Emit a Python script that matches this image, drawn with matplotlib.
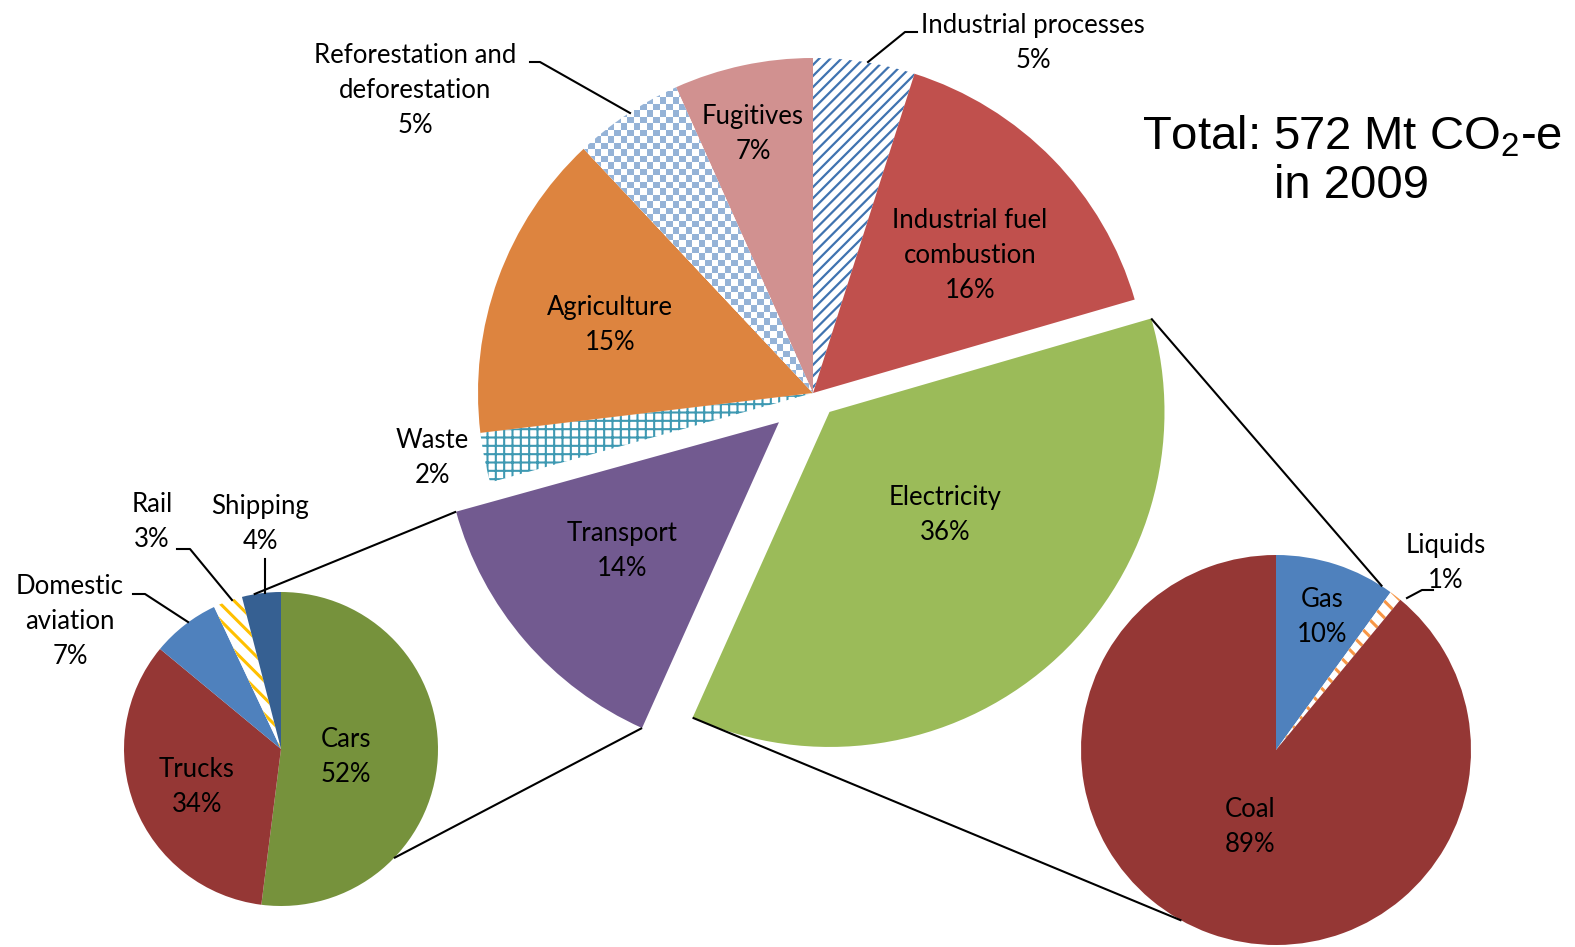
import numpy as np
import matplotlib
matplotlib.use('Agg')
import matplotlib.pyplot as plt
from matplotlib.colors import ListedColormap

W, H = 1575, 947


def Y(y):
    return H - y


# ---------------- data ----------------
main_labels = ['Industrial processes', 'Industrial fuel\ncombustion', 'Electricity',
               'Transport', 'Waste', 'Agriculture',
               'Reforestation and\ndeforestation', 'Fugitives']
main_values = [4.9, 15.6, 36.2, 14.0, 2.4, 14.9, 5.3, 6.7]

transport_labels = ['Cars', 'Trucks', 'Domestic\naviation', 'Rail', 'Shipping']
transport_values = [52, 34, 7, 3, 4]

electricity_labels = ['Gas', 'Liquids', 'Coal']
electricity_values = [10, 1, 89]

title_text = 'Total: 572 Mt CO$_2$-e\nin 2009'

# ---------------- styles ----------------
main_colors = ['white', '#C0504D', '#9BBB59', '#725A90', 'white', '#DD843F', 'white', '#D19190']
main_hatch = ['///', None, None, None, '++', None, None, None]
main_hcolor = ['#3F73B0', None, None, None, '#3E99B2', None, None, None]
main_hlw = [1.6, 1, 1, 1, 1.5, 1, 1, 1]
main_explode_frac = [0, 0, 0.075, 0.134, 0, 0, 0, 0]

tr_colors = ['#76923C', '#953735', '#4F81BD', 'white', '#366092']
tr_hatch = [None, None, None, '\\\\', None]
tr_hcolor = [None, None, None, '#FFC000', None]

el_colors = ['#4F81BD', 'white', '#953735']
el_hatch = [None, '\\\\', None]
el_hcolor = [None, '#F79646', None]

LABEL_FONT = ['Lato', 'DejaVu Sans']
LFS = 18.5
LSP = 1.5

plt.rcParams['mathtext.fontset'] = 'custom'
plt.rcParams['mathtext.rm'] = 'Liberation Sans'
plt.rcParams['mathtext.it'] = 'Liberation Sans'
plt.rcParams['mathtext.bf'] = 'Liberation Sans'

fig = plt.figure(figsize=(W / 100, H / 100), dpi=100)
ax = fig.add_axes([0, 0, 1, 1])

main_c = (813, Y(393))
main_r = 335
tr_c = (281, Y(749))
tr_r = 157
el_c = (1276, Y(750))
el_r = 195


def style(wedges, hatches, hcolors, hlws=None):
    for i, w in enumerate(wedges):
        w.set_linewidth(0)
        if hatches[i]:
            w.set_edgecolor(hcolors[i])
            if hasattr(w, 'set_hatch_linewidth'):
                w.set_hatch_linewidth(hlws[i] if hlws else 2.2)


wm, _ = ax.pie(main_values, colors=main_colors, startangle=90, counterclock=False,
               center=main_c, radius=main_r,
               explode=[f * main_r for f in main_explode_frac],
               hatch=main_hatch, wedgeprops=dict(linewidth=0))
style(wm, main_hatch, main_hcolor, main_hlw)

wt, _ = ax.pie(transport_values, colors=tr_colors, startangle=90, counterclock=False,
               center=tr_c, radius=tr_r, hatch=tr_hatch, wedgeprops=dict(linewidth=0))
style(wt, tr_hatch, tr_hcolor)

we, _ = ax.pie(electricity_values, colors=el_colors, startangle=90, counterclock=False,
               center=el_c, radius=el_r, hatch=el_hatch, wedgeprops=dict(linewidth=0))
style(we, el_hatch, el_hcolor)

# checkerboard texture for reforestation slice
wr = wm[6]
cx, cy = wr.center
r = wr.r
sq = 6.5
n = int(2 * r / sq) + 1
board = np.add.outer(np.arange(n), np.arange(n)) % 2
ax.imshow(board, extent=(cx - r, cx - r + n * sq, cy - r, cy - r + n * sq),
          cmap=ListedColormap(['white', '#95B3D7']), interpolation='nearest',
          zorder=1.5, clip_path=wr, clip_on=True)


def corner(w, theta):
    x0, y0 = w.center
    return (x0 + w.r * np.cos(np.radians(theta)), y0 + w.r * np.sin(np.radians(theta)))


def on_circle(c, rad, cw_deg):
    a = np.radians(90 - cw_deg)
    return (c[0] + rad * np.cos(a), c[1] + rad * np.sin(a))


lk = dict(color='black', lw=1.5, solid_capstyle='butt', zorder=3)
# connectors transport -> left pie
t_w = wm[3]
p1 = corner(t_w, t_w.theta1)
p2 = corner(t_w, t_w.theta2)
q1 = on_circle(tr_c, tr_r, 350)
q2 = on_circle(tr_c, tr_r, 134)
ax.plot([p1[0], q1[0]], [p1[1], q1[1]], **lk)
ax.plot([p2[0], q2[0]], [p2[1], q2[1]], **lk)
# connectors electricity -> right pie
e_w = wm[2]
p3 = corner(e_w, e_w.theta2)
p4 = corner(e_w, e_w.theta1)
q3 = on_circle(el_c, el_r, 33)
q4 = on_circle(el_c, el_r, 209)
ax.plot([p3[0], q3[0]], [p3[1], q3[1]], **lk)
ax.plot([p4[0], q4[0]], [p4[1], q4[1]], **lk)

# leader lines for outside labels
leaders = [
    [(868, 62), (905, 32), (917, 32)],
    [(630, 113), (540, 62), (530, 62)],
    [(188, 622), (145, 594), (133, 594)],
    [(232, 600), (190, 549), (177, 549)],
    [(265, 593), (265, 559)],
    [(1407, 598), (1422, 590), (1433, 590)],
]
for pts in leaders:
    ax.plot([p[0] for p in pts], [Y(p[1]) for p in pts], color='black', lw=1.5, zorder=3)


def fmt(name, v):
    return f"{name}\n{round(v)}%"


def put(labels, values, pos):
    for name, v, (x, y) in zip(labels, values, pos):
        ax.text(x, Y(y + 3), fmt(name, v), ha='center', va='center', ma='center',
                fontsize=LFS, family=LABEL_FONT, linespacing=LSP, zorder=4)


put(main_labels, main_values,
    [(1033, 40), (970, 252), (945, 512), (622, 548), (432, 455), (610, 322),
     (415, 87), (753, 131)])
put(transport_labels, transport_values,
    [(346, 754), (197, 784), (70, 618), (152, 519), (260, 521)])
put(electricity_labels, electricity_values,
    [(1322, 614), (1446, 560), (1250, 824)])

ax.text(1352, Y(161), title_text, ha='center', va='center', ma='center',
        fontsize=34, family=['Liberation Sans', 'DejaVu Sans'], linespacing=1.15, zorder=4)

ax.set_xlim(0, W)
ax.set_ylim(0, H)
ax.set_aspect('equal')
ax.axis('off')

fig.savefig('out.png', dpi=100)
